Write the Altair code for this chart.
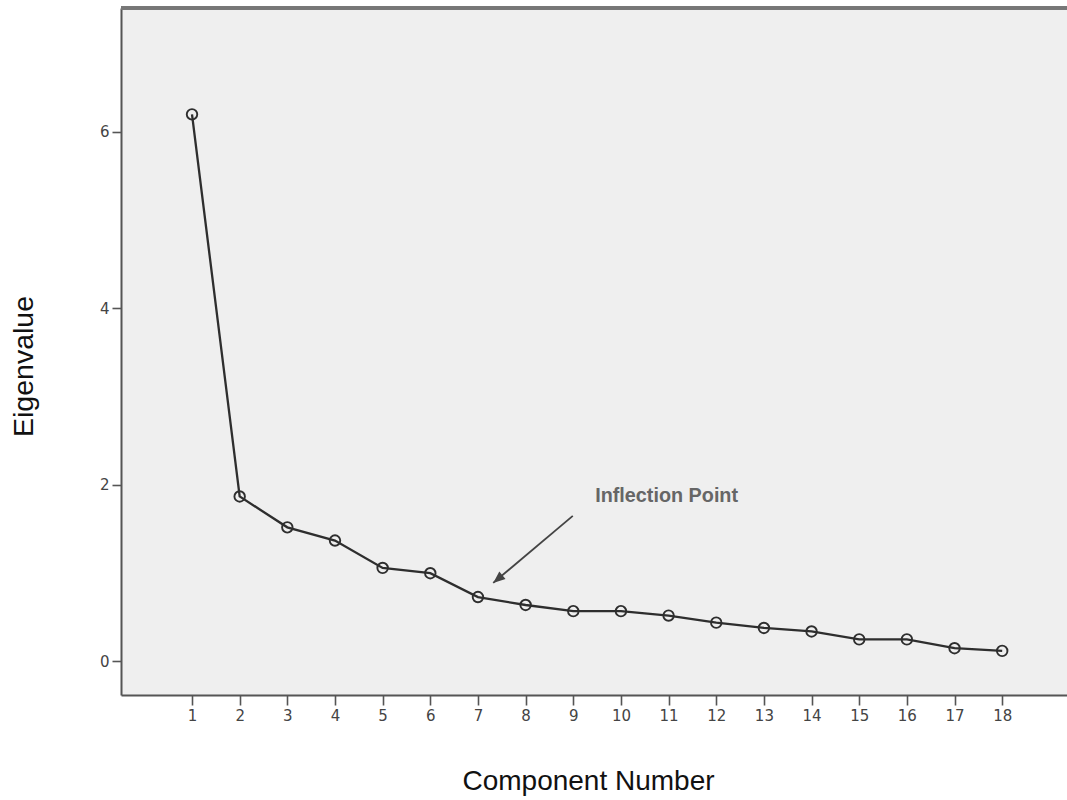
import altair as alt
import pandas as pd

# ---- data ----
components = list(range(1, 19))
eigenvalues = [6.20, 1.87, 1.52, 1.37, 1.06, 1.00, 0.73, 0.64, 0.57, 0.57,
               0.52, 0.44, 0.38, 0.34, 0.25, 0.25, 0.15, 0.12]
x_ticks = list(range(1, 19))
y_ticks = [0, 2, 4, 6]
x_title = "Component Number"
y_title = "Eigenvalue"
note_text = ["Inflection Point"]
note_x = [9.46]
note_y = [1.88]
arrow_from_x = [8.99]
arrow_from_y = [1.65]
arrow_to_x = [7.32]
arrow_to_y = [0.89]

W, H = 946, 687

df = pd.DataFrame({"component": components, "eigenvalue": eigenvalues})
note_df = pd.DataFrame({"component": note_x, "eigenvalue": note_y, "label": note_text})
arrow_df = pd.DataFrame({"component": arrow_from_x, "eigenvalue": arrow_from_y,
                         "x2": arrow_to_x, "y2": arrow_to_y})
head_df = pd.DataFrame({"component": arrow_to_x, "eigenvalue": arrow_to_y})

xscale = alt.Scale(domain=[-0.49, 19.36], nice=False, zero=False)
yscale = alt.Scale(domain=[-0.38, 7.405], nice=False, zero=False)

xaxis = alt.Axis(values=x_ticks, title=x_title, grid=False, format="d",
                 labelFont="DejaVu Sans", labelFontSize=15, labelColor="#444",
                 tickColor="#555", tickWidth=1.6, tickSize=10, labelPadding=3,
                 domainColor="#555", domainWidth=2,
                 titleFont="Liberation Sans", titleFontSize=28, titleFontWeight="normal",
                 titleColor="#111", titleX=467, titleY=94, titleBaseline="alphabetic",
                 titleAlign="center", labelFlush=False)
yaxis = alt.Axis(values=y_ticks, title=y_title, grid=False, format="d",
                 labelFont="DejaVu Sans", labelFontSize=15, labelColor="#444",
                 tickColor="#555", tickWidth=1.6, tickSize=9, labelPadding=3,
                 domainColor="#555", domainWidth=2,
                 titleFont="Liberation Sans", titleFontSize=28.5, titleFontWeight="normal",
                 titleColor="#111", titleX=-89, titleY=358, titleBaseline="alphabetic",
                 titleAlign="center", titleAngle=270, labelFlush=False)

base = alt.Chart(df).encode(
    x=alt.X("component:Q", scale=xscale, axis=xaxis),
    y=alt.Y("eigenvalue:Q", scale=yscale, axis=yaxis),
)
line = base.mark_line(color="#2e2e2e", strokeWidth=2.3)
pts = base.mark_point(shape="circle", filled=False, size=110, color="#2e2e2e",
                      strokeWidth=1.9, opacity=1)

top_border = alt.Chart(df).mark_rule(color="#777", strokeWidth=2.5).encode(
    x=alt.value(0), x2=alt.value(W), y=alt.value(0))

note = alt.Chart(note_df).mark_text(
    align="left", baseline="middle", font="Liberation Sans", fontSize=19.8,
    fontWeight="bold", color="#666").encode(
    x=alt.X("component:Q", scale=xscale),
    y=alt.Y("eigenvalue:Q", scale=yscale),
    text="label:N")

arrow = alt.Chart(arrow_df).mark_rule(color="#444", strokeWidth=1.8).encode(
    x=alt.X("component:Q", scale=xscale),
    y=alt.Y("eigenvalue:Q", scale=yscale),
    x2="x2:Q", y2="y2:Q")

head = alt.Chart(head_df).mark_point(
    shape="M0,0 L-0.4,1 L0.4,1 Z", filled=True, size=576, color="#444",
    angle=230, opacity=1).encode(
    x=alt.X("component:Q", scale=xscale),
    y=alt.Y("eigenvalue:Q", scale=yscale))

chart = alt.layer(line, pts, arrow, head, note, top_border).properties(
    width=W, height=H,
    autosize=alt.AutoSizeParams(type="none"),
    padding={"left": 121, "top": 8, "right": 0, "bottom": 104},
    background="white",
).configure_view(fill="#efefef", strokeWidth=0)

chart.save("out.html", embed_options={"renderer": "svg", "actions": False})
